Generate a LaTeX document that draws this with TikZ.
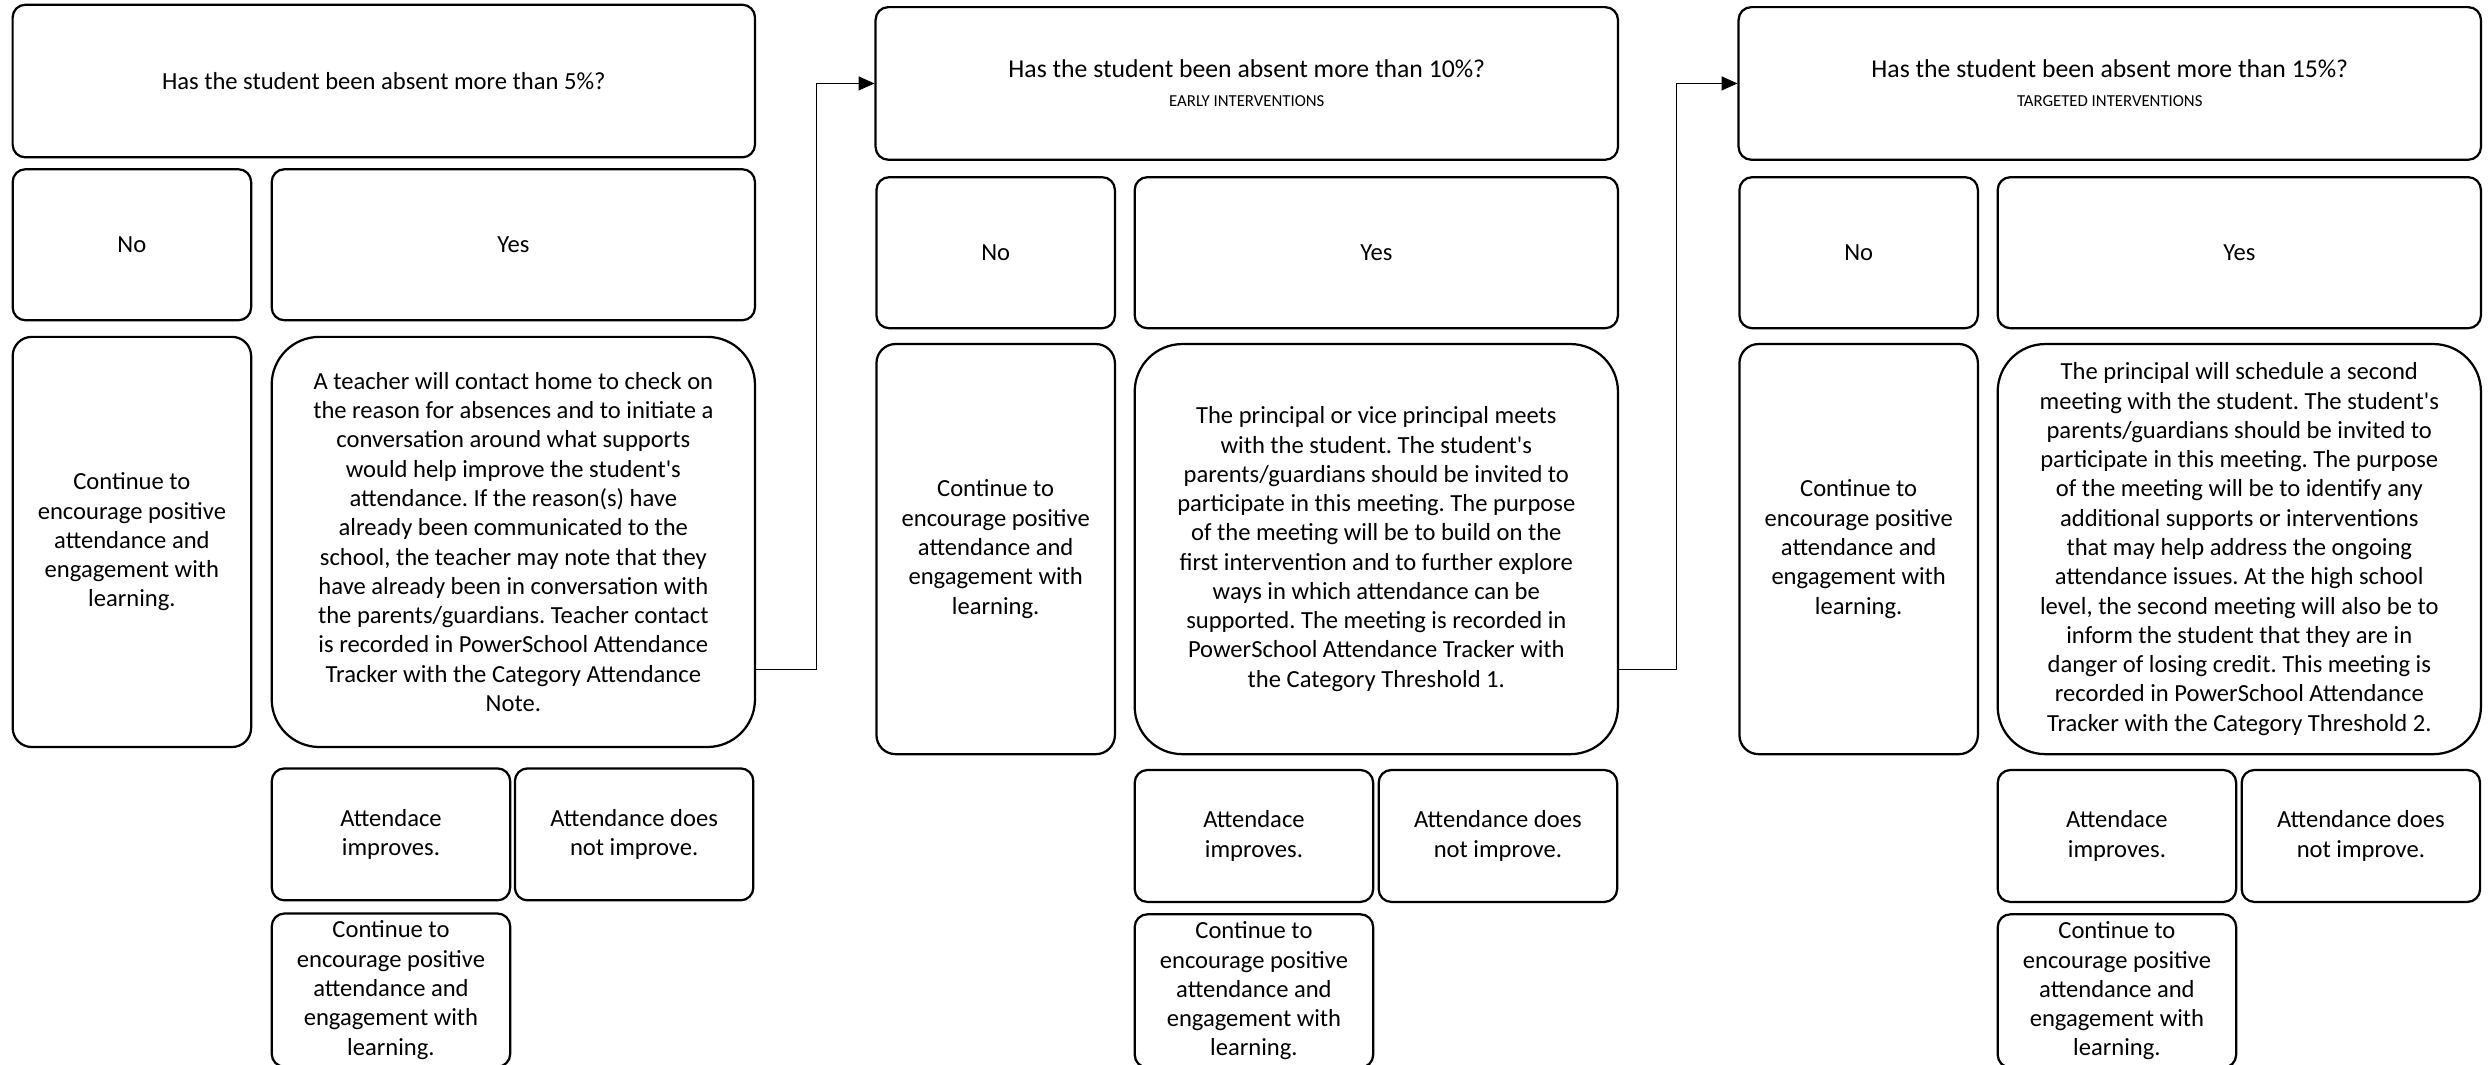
\documentclass[tikz,border=0pt]{standalone}
\usepackage{fontspec}
\setmainfont{Carlito}
\usepackage{tikz}
\usetikzlibrary{arrows.meta}
\tikzstyle{question} = [rectangle, rounded corners=0.2cm, minimum width=11.675cm, minimum height=2.4cm, text centered, align=center, draw=black, line width=1pt]
\tikzstyle{answer} = [rectangle, rounded corners=0.2cm, minimum width=3.75cm, minimum height=2.375cm, text centered, align=center, draw=black, line width=1pt]
\tikzstyle{yesbox} = [rectangle, rounded corners=0.2cm, minimum width=7.6cm, minimum height=2.375cm, text centered, align=center, draw=black, line width=1pt]
\tikzstyle{keepon} = [rectangle, rounded corners=0.3cm, minimum width=3.75cm, minimum height=6.45cm, text centered, align=center, draw=black, line width=1pt]
\tikzstyle{action} = [rectangle, rounded corners=0.75cm, minimum width=7.6cm, minimum height=6.45cm, text centered, align=center, draw=black, line width=1pt]
\tikzstyle{outcome} = [rectangle, rounded corners=0.2cm, minimum width=3.75cm, minimum height=2.075cm, text centered, align=center, draw=black, line width=1pt]
\tikzstyle{keepshort} = [rectangle, rounded corners=0.2cm, minimum width=3.75cm, minimum height=2.3cm, text centered, align=center, draw=black, line width=1pt]
\tikzstyle{arrow} = [line width=0.5pt,->,>={Triangle[length=0.25cm,width=0.22cm]}]
\newcommand{\subhead}[1]{{\fontsize{7.5}{9}\selectfont #1}}
\newcommand{\apos}{\textquotesingle}

\begin{document}
\frenchspacing
\begin{tikzpicture}[x=0.025cm, y=-0.025cm, font=\fontsize{11}{13.1}\selectfont]
\useasboundingbox (0,0) rectangle (1568,670);

% Column 1
\node (q1) [question] at (241.5,51) {Has the student been absent more than 5\%?};
\node (no1) [answer] at (83,154) {No};
\node (yes1) [yesbox] at (323,154) {Yes};
\node (keep1) [keepon] at (83,341) {Continue to\\encourage positive\\attendance and\\engagement with\\learning.};
\node (teach) [action] at (323,341) {A teacher will contact home to check on\\the reason for absences and to initiate a\\conversation around what supports\\would help improve the student\apos s\\attendance. If the reason(s) have\\already been communicated to the\\school, the teacher may note that they\\have already been in conversation with\\the parents/guardians. Teacher contact\\is recorded in PowerSchool Attendance\\Tracker with the Category Attendance\\Note.};
\node (imp1) [outcome] at (246,525) {Attendace\\improves.};
\node (notimp1) [outcome] at (399,525) {Attendance does\\not improve.};
\node (keep1b) [keepshort] at (246,623) {Continue to\\encourage positive\\attendance and\\engagement with\\learning.};

% Column 2
\node (q2) [question] at (784.5,52.5) {{\fontsize{11.5}{14}\selectfont Has the student been absent more than 10\%?}\\[0pt]\subhead{EARLY INTERVENTIONS}};
\node (no2) [answer] at (626.5,159) {No};
\node (yes2) [yesbox] at (866,159) {Yes};
\node (keep2) [keepon] at (626.5,345.5) {Continue to\\encourage positive\\attendance and\\engagement with\\learning.};
\node (princ) [action] at (866,345.5) {The principal or vice principal meets\\with the student. The student\apos s\\parents/guardians should be invited to\\participate in this meeting. The purpose\\of the meeting will be to build on the\\first intervention and to further explore\\ways in which attendance can be\\supported. The meeting is recorded in\\PowerSchool Attendance Tracker with\\the Category Threshold 1.};
\node (imp2) [outcome] at (789,526) {Attendace\\improves.};
\node (notimp2) [outcome] at (942.5,526) {Attendance does\\not improve.};
\node (keep2b) [keepshort] at (789,623.5) {Continue to\\encourage positive\\attendance and\\engagement with\\learning.};

% Column 3
\node (q3) [question] at (1327.5,52.5) {{\fontsize{11.5}{14}\selectfont Has the student been absent more than 15\%?}\\[0pt]\subhead{TARGETED INTERVENTIONS}};
\node (no3) [answer] at (1169.5,159) {No};
\node (yes3) [yesbox] at (1409,159) {Yes};
\node (keep3) [keepon] at (1169.5,345.5) {Continue to\\encourage positive\\attendance and\\engagement with\\learning.};
\node (second) [action] at (1409,345.5) {The principal will schedule a second\\meeting with the student. The student\apos s\\parents/guardians should be invited to\\participate in this meeting. The purpose\\of the meeting will be to identify any\\additional supports or interventions\\that may help address the ongoing\\attendance issues. At the high school\\level, the second meeting will also be to\\inform the student that they are in\\danger of losing credit. This meeting is\\recorded in PowerSchool Attendance\\Tracker with the Category Threshold 2.};
\node (imp3) [outcome] at (1332,526) {Attendace\\improves.};
\node (notimp3) [outcome] at (1485.5,526) {Attendance does\\not improve.};
\node (keep3b) [keepshort] at (1332,623.5) {Continue to\\encourage positive\\attendance and\\engagement with\\learning.};

% Arrows
\draw [arrow] ([yshift=-2cm]teach.east) -- ++(38,0) |- (q2.west);
\draw [arrow] ([yshift=-1.9cm]princ.east) -- ++(36,0) |- (q3.west);

\end{tikzpicture}
\end{document}
